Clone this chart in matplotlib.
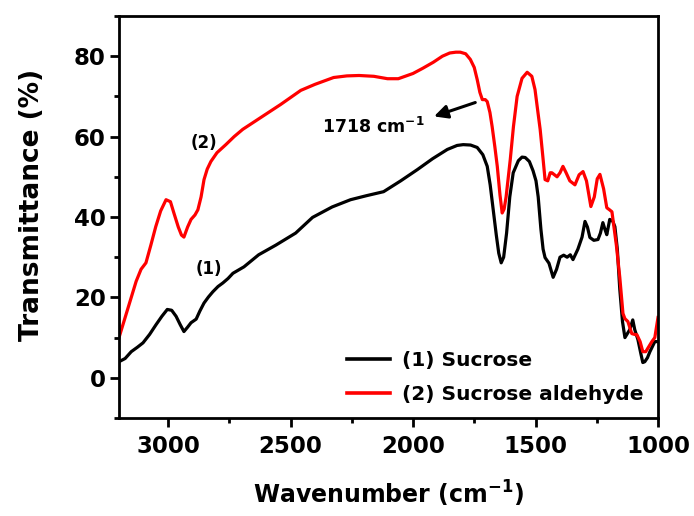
import matplotlib
matplotlib.use('Agg')
import matplotlib.pyplot as plt
from matplotlib.ticker import MultipleLocator

plt.rcParams['font.family'] = ['DejaVu Sans']
plt.rcParams['font.weight'] = 'bold'
plt.rcParams['mathtext.fontset'] = 'custom'
plt.rcParams['mathtext.rm'] = 'DejaVu Sans:bold'
plt.rcParams['mathtext.default'] = 'rm'

# (1) Sucrose
wn_sucrose = [3200, 3175, 3150, 3125, 3102, 3075, 3049, 3025, 3003, 2985, 2967, 2950,
              2935, 2920, 2906, 2885, 2870, 2853, 2835, 2817, 2796, 2776, 2755, 2735,
              2690, 2630, 2560, 2479, 2410, 2330, 2255, 2190, 2120, 2050, 1982, 1920,
              1860, 1820, 1795, 1765, 1738, 1715, 1697, 1685, 1673, 1660, 1650, 1640,
              1630, 1618, 1605, 1591, 1570, 1555, 1542, 1525, 1510, 1498, 1489, 1478,
              1469, 1461, 1445, 1428, 1414, 1400, 1385, 1371, 1358, 1347, 1327, 1310,
              1298, 1288, 1278, 1262, 1245, 1235, 1225, 1217, 1209, 1197, 1185, 1176,
              1166, 1156, 1145, 1135, 1125, 1115, 1103, 1095, 1082, 1070, 1062, 1054,
              1043, 1033, 1013, 1000]
t_sucrose = [4, 4.8, 6.5, 7.6, 8.7, 10.8, 13.2, 15.3, 17, 16.8, 15.3, 13.2,
             11.5, 12.6, 13.7, 14.6, 16.6, 18.6, 20.1, 21.4, 22.7, 23.6, 24.7, 26,
             27.6, 30.6, 33, 36, 39.9, 42.5, 44.3, 45.3, 46.3, 49, 51.8, 54.5,
             56.8, 57.8, 58, 57.9, 57.3, 55.5, 52.6, 48, 42, 35.5, 31, 28.6,
             30, 36, 45, 51, 54, 54.9, 54.8, 53.8, 51.5, 49, 45, 37,
             32, 29.9, 28.5, 25, 27, 30, 30.5, 30, 30.6, 29.4, 32, 35,
             38.9, 37.5, 34.9, 34.2, 34.4, 36, 38.6, 37, 35.6, 39.4, 39, 37.6,
             32, 22, 14, 10, 11, 12, 14.4, 12, 9.5, 6, 3.8, 4,
             5, 6.5, 9, 9]

# (2) Sucrose aldehyde
wn_aldehyde = [3200, 3180, 3155, 3130, 3110, 3090, 3070, 3050, 3030, 3008, 2990, 2976,
               2958, 2945, 2935, 2920, 2906, 2890, 2878, 2865, 2853, 2840, 2825, 2800,
               2764, 2730, 2695, 2620, 2540, 2458, 2400, 2324, 2270, 2220, 2160, 2104,
               2060, 2000, 1960, 1917, 1880, 1850, 1825, 1807, 1785, 1766, 1750, 1738,
               1727, 1717, 1705, 1697, 1686, 1677, 1666, 1656, 1645, 1636, 1628, 1620,
               1603, 1590, 1575, 1555, 1534, 1515, 1502, 1490, 1481, 1470, 1461, 1450,
               1440, 1433, 1412, 1400, 1388, 1375, 1360, 1339, 1322, 1306, 1292, 1274,
               1260, 1248, 1237, 1222, 1209, 1198, 1188, 1170, 1156, 1143, 1135, 1123,
               1115, 1107, 1096, 1086, 1073, 1062, 1050, 1040, 1025, 1013, 1000]
t_aldehyde = [10, 14, 19, 24, 27, 28.6, 33, 37.6, 41.5, 44.3, 43.8, 41,
              37.5, 35.5, 35, 37.5, 39.4, 40.5, 41.8, 45, 49.3, 51.9, 53.8, 56,
              58, 60, 61.8, 64.8, 68, 71.5, 73, 74.7, 75.1, 75.2, 75, 74.4,
              74.4, 75.7, 77, 78.5, 80, 80.8, 81, 81, 80.6, 79.2, 77.2, 74.2,
              71, 69.2, 69.2, 68.7, 66, 62.5, 57.5, 52.6, 45.5, 41, 42, 45,
              54.3, 62.5, 70, 74.5, 76, 75, 71.7, 66, 61.8, 55, 49.3, 49,
              51, 51, 50, 51, 52.6, 51, 49, 48, 50.5, 51.3, 49, 42.6,
              45, 49.5, 50.6, 47, 42.3, 41.8, 41.3, 33, 25, 16, 14.7, 14,
              12.5, 11, 10.8, 10.7, 9, 6.5, 6.5, 7.5, 9, 10, 15]

fig = plt.figure(figsize=(6.94, 5.16), dpi=100)
ax = fig.add_axes([119 / 694, 1 - 418 / 516, (658 - 119) / 694, (418 - 16) / 516])

ax.plot(wn_sucrose, t_sucrose, color='black', lw=2.3, label='(1) Sucrose')
ax.plot(wn_aldehyde, t_aldehyde, color='#ff0000', lw=2.3, label='(2) Sucrose aldehyde')

ax.set_xlim(3200, 1000)
ax.set_ylim(-10, 90)
ax.xaxis.set_major_locator(MultipleLocator(500))
ax.xaxis.set_minor_locator(MultipleLocator(250))
ax.yaxis.set_major_locator(MultipleLocator(20))
ax.yaxis.set_minor_locator(MultipleLocator(10))
ax.tick_params(which='major', length=6.5, width=2, labelsize=16.5, pad=3)
ax.tick_params(axis='x', which='major', pad=6)
ax.tick_params(which='minor', length=3.5, width=2)
for s in ax.spines.values():
    s.set_linewidth(2)

ax.set_xlabel('Wavenumber (cm$^{-1}$)', fontsize=17, fontweight='bold', labelpad=15)
ax.set_ylabel('Transmittance (%)', fontsize=19, fontweight='bold')
ax.yaxis.set_label_coords(-0.137, 0.53)

ax.text(2853, 58.5, '(2)', fontsize=12, fontweight='bold', ha='center', va='center')
ax.text(2833, 27, '(1)', fontsize=12, fontweight='bold', ha='center', va='center')
ax.annotate('', xy=(1925, 64.8), xytext=(1735, 68.7),
            arrowprops=dict(arrowstyle='-|>', color='black', lw=2.2, mutation_scale=20))
ax.text(2370, 62.3, '1718 cm$^{-1}$', fontsize=12.5, fontweight='bold', ha='left', va='center')

leg = ax.legend(loc='lower right', frameon=False, fontsize=14.5, handlelength=2.15,
                borderaxespad=0.3, labelspacing=0.75, handletextpad=0.6)
for line in leg.get_lines():
    line.set_linewidth(2.6)

fig.savefig('out.png', dpi=100)
